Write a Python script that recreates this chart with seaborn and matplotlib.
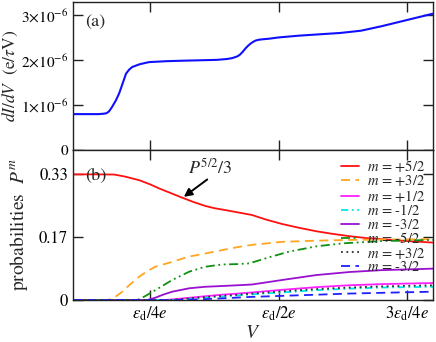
import matplotlib
matplotlib.use("Agg")
import matplotlib.pyplot as plt
import seaborn as sns
import numpy as np
import pandas as pd

# ---------------- data ----------------
# top panel: differential conductance (units of 1e-6 e/(tau V)), V in units of eps_d/e
V_top = [0.10, 0.13, 0.15, 0.16, 0.165, 0.170, 0.176, 0.184, 0.190, 0.197, 0.203,
         0.209, 0.215, 0.222, 0.229, 0.24, 0.248, 0.265, 0.281, 0.31, 0.345, 0.38,
         0.40, 0.41, 0.42, 0.425, 0.43, 0.435, 0.44, 0.445, 0.45, 0.455, 0.462, 0.47,
         0.48, 0.50, 0.54, 0.58, 0.62, 0.66, 0.70, 0.75, 0.80]
dIdV = [0.80, 0.80, 0.80, 0.81, 0.82, 0.86, 0.96, 1.12, 1.27, 1.50, 1.70,
        1.79, 1.85, 1.88, 1.91, 1.94, 1.96, 1.97, 1.98, 1.99, 2.00, 2.01,
        2.03, 2.05, 2.09, 2.13, 2.19, 2.26, 2.32, 2.37, 2.41, 2.44, 2.46, 2.47,
        2.48, 2.51, 2.55, 2.58, 2.61, 2.66, 2.76, 2.90, 3.04]

# bottom panel: probabilities P^m (each series with its own V samples)
V_p52 = [0.10, 0.15, 0.18, 0.20, 0.229, 0.25, 0.268, 0.29, 0.312, 0.335, 0.357, 0.375,
         0.396, 0.42, 0.448, 0.475, 0.507, 0.54, 0.573, 0.60, 0.637, 0.67, 0.701, 0.75, 0.80]
P_p52 = [0.3325, 0.3325, 0.332, 0.327, 0.317, 0.306, 0.295, 0.283, 0.271, 0.259, 0.249, 0.243,
         0.238, 0.232, 0.225, 0.213, 0.201, 0.191, 0.182, 0.176, 0.169, 0.164, 0.161, 0.156, 0.152]

V_p32 = [0.10, 0.165, 0.17, 0.18, 0.196, 0.21, 0.229, 0.245, 0.26, 0.293, 0.326, 0.357,
         0.39, 0.42, 0.448, 0.507, 0.573, 0.637, 0.70, 0.80]
P_p32 = [0.0, 0.0, 0.001, 0.006, 0.022, 0.040, 0.062, 0.077, 0.088, 0.101, 0.115, 0.123,
         0.132, 0.140, 0.146, 0.154, 0.157, 0.159, 0.160, 0.161]

V_p12 = [0.10, 0.28, 0.32, 0.357, 0.39, 0.42, 0.448, 0.507, 0.573, 0.637, 0.70, 0.80]
P_p12 = [0.0, 0.0, 0.005, 0.010, 0.014, 0.017, 0.020, 0.027, 0.034, 0.039, 0.042, 0.045]

V_m12 = [0.10, 0.30, 0.357, 0.39, 0.42, 0.448, 0.507, 0.573, 0.637, 0.70, 0.80]
P_m12 = [0.0, 0.0, 0.006, 0.009, 0.012, 0.015, 0.020, 0.026, 0.030, 0.033, 0.035]

V_m32 = [0.10, 0.245, 0.26, 0.275, 0.293, 0.326, 0.357, 0.39, 0.42, 0.448, 0.507, 0.573,
         0.637, 0.70, 0.80]
P_m32 = [0.0, 0.0, 0.006, 0.014, 0.022, 0.031, 0.035, 0.037, 0.039, 0.041, 0.053, 0.066,
         0.074, 0.079, 0.083]

V_m52 = [0.10, 0.225, 0.24, 0.26, 0.293, 0.326, 0.357, 0.39, 0.42, 0.443, 0.481, 0.52,
         0.573, 0.625, 0.70, 0.80]
P_m52 = [0.0, 0.0, 0.010, 0.026, 0.053, 0.075, 0.088, 0.094, 0.095, 0.097, 0.113, 0.128,
         0.142, 0.150, 0.156, 0.159]

V_p32b = [0.10, 0.29, 0.357, 0.39, 0.42, 0.448, 0.507, 0.573, 0.637, 0.70, 0.80]
P_p32b = [0.0, 0.0, 0.008, 0.011, 0.014, 0.017, 0.023, 0.029, 0.033, 0.036, 0.039]

V_m32b = [0.10, 0.30, 0.35, 0.40, 0.443, 0.507, 0.573, 0.637, 0.70, 0.80]
P_m32b = [0.0, 0.0, 0.002, 0.005, 0.008, 0.011, 0.014, 0.017, 0.019, 0.022]

labels = [r'$m$ = +5/2', r'$m$ = +3/2', r'$m$ = +1/2', r'$m$ = -1/2',
          r'$m$ = -3/2', r'$m$ = -5/2', r'$m$ = +3/2', r'$m$ = -3/2']
x_ticks = [0.25, 0.5, 0.75]
x_ticklabels = [r'$\epsilon_{\rm d}/4e$', r'$\epsilon_{\rm d}/2e$', r'$3\epsilon_{\rm d}/4e$']
top_yticks = [0, 1e-6, 2e-6, 3e-6]
top_yticklabels = ['0', r'$1{\times}10^{-6}$', r'$2{\times}10^{-6}$', r'$3{\times}10^{-6}$']
bot_yticks = [0, 1/6, 1/3]
bot_yticklabels = ['0', '0.17', '0.33']

# ---------------- style ----------------
sns.set_style('ticks')
plt.rcParams['font.family'] = ['STIXGeneral', 'DejaVu Serif']
plt.rcParams['mathtext.fontset'] = 'stix'
plt.rcParams['xtick.direction'] = 'in'
plt.rcParams['ytick.direction'] = 'in'
plt.rcParams['axes.edgecolor'] = '#222222'
plt.rcParams['axes.linewidth'] = 1.0

W, H = 436, 342
fig = plt.figure(figsize=(W / 100, H / 100), dpi=100)
L, R = 73, 433
ax1 = fig.add_axes([L / W, (H - 150) / H, (R - L) / W, 148 / H])
ax2 = fig.add_axes([L / W, (H - 300) / H, (R - L) / W, 150 / H])

# ---------------- top panel ----------------
df_top = pd.DataFrame({'V': V_top, 'G': np.array(dIdV) * 1e-6})
sns.lineplot(data=df_top, x='V', y='G', ax=ax1, color='#1010ff', lw=1.5)
ax1.set_xlim(0.1, 0.8)
ax1.set_ylim(0, 3.3e-6)
ax1.set_xticks(x_ticks)
ax1.set_xticklabels([])
ax1.set_yticks(top_yticks)
ax1.set_yticklabels(top_yticklabels, fontsize=11)
ax1.set_xlabel('')
ax1.set_ylabel(r'$dI/dV$  (e/$\tau$V)', fontsize=12.5)
ax1.yaxis.set_label_coords(-0.148, 0.5)
ax1.text(0.063, 0.865, '(a)', transform=ax1.transAxes, fontsize=13, ha='center', va='center')

# ---------------- bottom panel ----------------
series = [(V_p52, P_p52), (V_p32, P_p32), (V_p12, P_p12), (V_m12, P_m12),
          (V_m32, P_m32), (V_m52, P_m52), (V_p32b, P_p32b), (V_m32b, P_m32b)]
colors = ['#ff1010', '#ffa520', '#ff20ff', '#00e8e8', '#9a10d0', '#109010', '#303030', '#2020ff']
styles = ['-', (0, (5, 3)), '-', (0, (4, 2, 1, 2)), '-', (0, (5, 2, 1, 2, 1, 2)), (0, (1, 2)), (0, (5, 3))]
for (vv, pp), c, ls, lab in zip(series, colors, styles, labels):
    df = pd.DataFrame({'V': vv, 'P': pp})
    sns.lineplot(data=df, x='V', y='P', ax=ax2, color=c, lw=1.3, linestyle=ls, label=lab)

ax2.set_xlim(0.1, 0.8)
ax2.set_ylim(0, 0.397)
ax2.set_xticks(x_ticks)
ax2.set_xticklabels(x_ticklabels, fontsize=12)
ax2.set_yticks(bot_yticks)
ax2.set_yticklabels(bot_yticklabels, fontsize=12)
ax2.set_xlabel(r'$V$', fontsize=14, labelpad=1)
ax2.set_ylabel(r'probabilities  $P^m$', fontsize=14)
ax2.yaxis.set_label_coords(-0.12, 0.5)
ax2.text(0.063, 0.83, '(b)', transform=ax2.transAxes, fontsize=13, ha='center', va='center')
ax2.text(0.367, 0.349, r'$P^{5/2}/3$', fontsize=13, ha='center', va='center')
ax2.annotate('', xy=(0.3155, 0.273), xytext=(0.361, 0.319),
             arrowprops=dict(arrowstyle='-|>', color='k', lw=1.4, mutation_scale=12,
                             shrinkA=0, shrinkB=0))

leg = ax2.legend(loc='upper right', frameon=False, fontsize=10.5, handlelength=1.25,
                 labelspacing=-0.04, handletextpad=0.55, borderaxespad=0.15)

for ax in (ax1, ax2):
    ax.tick_params(axis='both', which='both', direction='in', top=True, right=True,
                   length=7, width=1.0, colors='#222222', labelcolor='black')

fig.savefig('out.png', dpi=100)
